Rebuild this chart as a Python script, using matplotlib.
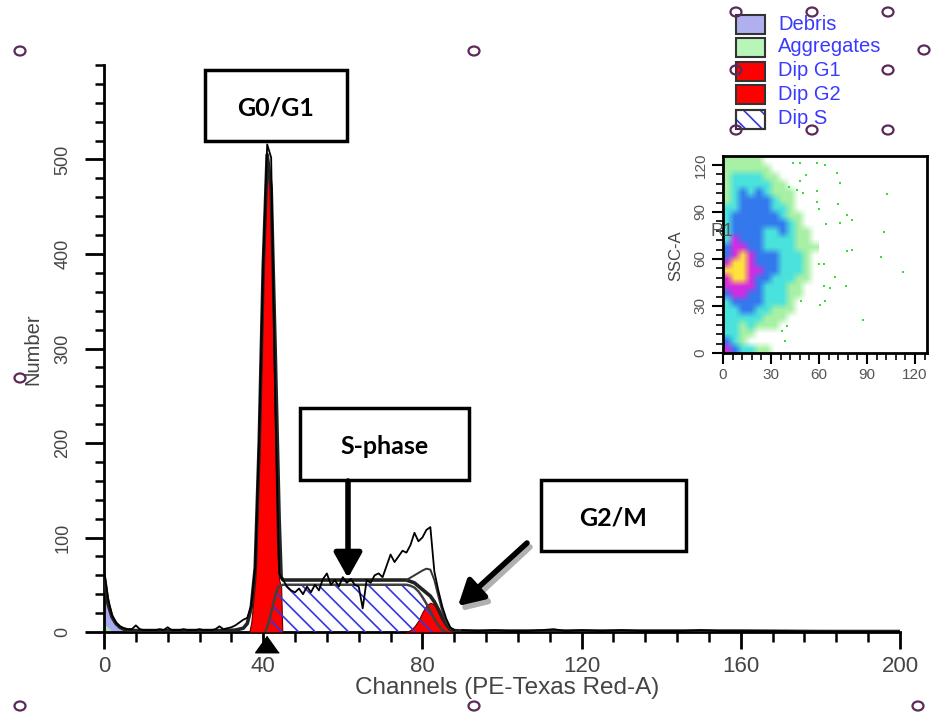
import numpy as np
import matplotlib.pyplot as plt
from matplotlib.patches import Rectangle, Ellipse, FancyArrowPatch
from matplotlib.colors import ListedColormap, BoundaryNorm
from matplotlib.ticker import MultipleLocator

plt.rcParams['font.family'] = ['Liberation Sans', 'DejaVu Sans']
plt.rcParams['hatch.linewidth'] = 1.2

# ---- DNA histogram, values ----
# raw counts for channels 0..88
raw_counts = [66, 36, 18, 10, 6, 4, 3, 3, 7, 3,
              2, 2, 2, 2, 3, 2, 5, 2, 2, 2,
              3, 2, 2, 2, 3, 2, 2, 2, 3, 6,
              3, 4, 5, 7, 10, 13, 15, 28, 70, 210,
              390, 516, 502, 250, 62, 55, 48, 44, 42, 46,
              40, 48, 42, 50, 44, 56, 62, 50, 55, 48,
              58, 52, 56, 50, 48, 25, 55, 52, 60, 62,
              58, 70, 82, 74, 80, 86, 84, 92, 105, 96,
              100, 108, 111, 64, 44, 27, 14, 5, 2]
tail_ch = [90, 94, 98, 102, 106, 110, 113, 116, 120, 125, 130, 135, 140,
           145, 150, 155, 160, 165, 170, 175, 180, 185, 190, 195, 200]
tail_counts = [2, 1, 2, 1, 1, 2, 3, 1, 2, 1, 2, 1, 1,
               1, 2, 1, 1, 1, 1, 0.5, 0.5, 0.3, 0.2, 0.2, 0.2]

# model fit outline
fit_ch = [0, 1, 2, 3, 4, 5, 6, 8, 10, 15, 20, 25, 30, 33, 35, 36, 37, 38, 39,
          40, 41, 42, 43, 44, 44.5, 45, 50, 55, 60, 65, 70, 76, 78, 80, 82,
          83, 84, 85, 86, 87, 88, 90, 100, 120, 140, 160, 180, 200]
fit_counts = [60, 30, 16, 9, 5, 3, 2, 1.5, 1.5, 1.5, 1.5, 1.5, 1.5, 2, 4, 9, 26, 68, 200,
              385, 505, 470, 300, 120, 58, 55, 55, 55, 55, 55, 55, 55, 52, 45, 38,
              32, 24, 15, 8, 3, 1.5, 1, 1, 1, 1, 1, 0.5, 0.5]
total_ch = [76, 78, 80, 81, 82, 83, 84, 85, 86, 87, 88]
total_counts = [55, 60, 65, 67, 66, 55, 38, 22, 10, 4, 1]

# model components
debris_ch = [0, 0.5, 1, 2, 3, 4, 5, 6, 7, 8]
debris_counts = [40, 33, 26, 17, 11, 7, 4, 2.5, 1.5, 0]
agg_ch = [0, 0.5, 1, 1.5, 2]
agg_counts = [6, 7, 5, 3, 0]
g1_ch = [36.5, 37, 38, 39, 40, 41, 42, 42.5, 43, 43.5, 44, 44.5, 44.8]
g1_counts = [0, 10, 55, 190, 380, 505, 470, 330, 200, 90, 55, 48, 0]
g2_ch = [76, 77, 78, 79, 80, 81, 82, 83, 84, 85, 86, 87, 87.5]
g2_counts = [0, 2, 6, 12, 21, 28, 31, 29, 22, 13, 6, 2, 0]
s_ch = [40.5, 41, 42, 43, 43.8, 45, 76, 77, 78, 79, 80, 81, 82, 83, 84, 85, 86]
s_counts = [0, 5, 20, 38, 48, 50, 50, 49, 47, 43, 37, 30, 22, 14, 7, 2, 0]
g1_marker = 41

legend_labels = ['Debris', 'Aggregates', 'Dip G1', 'Dip G2', 'Dip S']
legend_colors = ['#b0b0f0', '#b8f5b8', '#ff0000', '#ff0000', 'white']

# ---- FSC/SSC dot plot: density level per 5x5 cell (rows top -> bottom, x 0..60) ----
dens_rows = [
    "111110000000",
    "111111000000",
    "122221100000",
    "122222110000",
    "123232111000",
    "123333211000",
    "223333221000",
    "233333321100",
    "233333332100",
    "233332232110",
    "243332222110",
    "344332222111",
    "345433322210",
    "455433322210",
    "555443322210",
    "455433222110",
    "444432221100",
    "344332221100",
    "233332221000",
    "223322111000",
    "222221110000",
    "221211100000",
    "221100000000",
    "321000000000",
    "432211000000",
]
cell = 5
out_x = [44, 48, 58.7, 64, 71, 52, 48, 58.7, 102.7, 71.7, 60, 77.6, 80.7, 73, 64.6,
         100.6, 77.6, 80.7, 98.5, 60, 63, 112.6, 70, 77, 63, 67, 60.8, 64, 48.8,
         87.4, 39.8, 38.8, 37, 58.7, 41.3, 46, 50, 73]
out_y = [121, 121.5, 121.4, 120, 115, 113.6, 110, 103.6, 101.5, 95, 92, 88, 85, 83, 82,
         77, 64.8, 65.8, 61, 56.7, 56.7, 52, 48.8, 42.5, 42.5, 41.4, 30.8, 33, 33,
         21, 17.4, 7.4, 13.8, 96.6, 106, 104, 102, 108.7]

W, H = 933, 715
fig = plt.figure(figsize=(W / 100, H / 100), dpi=100)
fig.patch.set_facecolor('white')

# main histogram axes
ax = fig.add_axes([104 / W, 1 - 632 / H, 796 / W, 567 / H])
ax.set_xlim(0, 200)
ax.set_ylim(0, 600)

ax.fill_between(debris_ch, debris_counts, color='#aaaaee', lw=0, zorder=2)
ax.fill_between(agg_ch, agg_counts, color='#a8e8a8', lw=0, zorder=2)
ax.fill_between(g2_ch, g2_counts, color='#ff0000', edgecolor='#600000', lw=0.8, zorder=3)
ax.fill_between(g1_ch, g1_counts, color='#ff0000', edgecolor='#600000', lw=0.8, zorder=3)
ax.fill_between(s_ch, s_counts, facecolor='none', edgecolor='#3535e0', hatch='\\\\',
                lw=0, zorder=4)
ax.plot(s_ch, s_counts, color='#404040', lw=1.8, zorder=5)
ax.plot(fit_ch, fit_counts, color='#222222', lw=2.6, zorder=6)
ax.plot(total_ch, total_counts, color='#333333', lw=1.4, zorder=6)
ax.plot(np.arange(len(raw_counts)), raw_counts, color='black', lw=1.3, zorder=7)
ax.plot(tail_ch, tail_counts, color='black', lw=1.3, zorder=7)
ax.plot([g1_marker], [-13], marker=[(0, 0.7), (-1, -0.7), (1, -0.7)], ms=17,
        color='black', clip_on=False, zorder=8)

for side in ['top', 'right']:
    ax.spines[side].set_visible(False)
for side in ['left', 'bottom']:
    ax.spines[side].set_linewidth(2)
ax.set_xticks([0, 40, 80, 120, 160, 200])
ax.xaxis.set_minor_locator(MultipleLocator(8))
ax.set_yticks([0, 100, 200, 300, 400, 500])
ax.yaxis.set_minor_locator(MultipleLocator(20))
ax.tick_params(axis='x', which='major', length=12, width=2, pad=5,
               labelsize=16, labelcolor='#444444')
ax.tick_params(axis='x', which='minor', length=7, width=1.8)
ax.tick_params(axis='y', which='major', length=13.5, width=2, pad=10,
               labelsize=13, labelcolor='#444444', labelrotation=90)
ax.tick_params(axis='y', which='minor', length=6.5, width=1.8)
for lab in ax.get_yticklabels():
    lab.set_va('center')

# inset dot plot
ax_in = fig.add_axes([723 / W, 1 - 353 / H, 204 / W, 197 / H])
grid = np.array([[int(c) for c in row] for row in dens_rows])
cmap = ListedColormap(['white', '#a8f0a4', '#4ae2dc', '#3478ee', '#d42ce0', '#ffe23c'])
norm = BoundaryNorm(np.arange(-0.5, 6.5, 1), cmap.N)
rgb = cmap(norm(grid))
ax_in.imshow(rgb, extent=(0, grid.shape[1] * cell, 0, grid.shape[0] * cell),
             interpolation='bilinear', aspect='auto', zorder=1)
ax_in.scatter(out_x, out_y, s=3, marker='s', color='#33e033', lw=0, zorder=2)
ax_in.set_xlim(0, 127.5)
ax_in.set_ylim(0, 125.7)
ax_in.set_xticks([0, 30, 60, 90, 120])
ax_in.set_yticks([0, 30, 60, 90, 120])
ax_in.xaxis.set_minor_locator(MultipleLocator(6))
ax_in.yaxis.set_minor_locator(MultipleLocator(6))
for sp in ax_in.spines.values():
    sp.set_linewidth(2)
ax_in.tick_params(which='major', length=8, width=1.5, pad=3)
ax_in.tick_params(which='minor', length=5, width=1.2)
ax_in.tick_params(axis='y', labelrotation=90)
for lab in ax_in.get_xticklabels() + ax_in.get_yticklabels():
    lab.set_fontsize(11)
    lab.set_color('#555555')
for lab in ax_in.get_yticklabels():
    lab.set_va('center')

# overlay in pixel coordinates for labels, call-outs and handles
ov = fig.add_axes([0, 0, 1, 1], zorder=10)
ov.set_xlim(0, W)
ov.set_ylim(H, 0)
ov.axis('off')

ov.text(33, 349, 'Number', rotation=90, ha='center', va='center',
        fontsize=14.5, color='#444444')
ov.text(507, 688, 'Channels (PE-Texas Red-A)', ha='center', va='center',
        fontsize=17.5, color='#444444')
ov.text(676, 256, 'SSC-A', rotation=90, ha='center', va='center',
        fontsize=12, color='#444444')
ov.text(722, 232, 'R1', ha='center', va='center', fontsize=13, color='#555555')
# inset image is cropped at the bottom
ov.add_patch(Rectangle((700, 381), 233, 14, facecolor='white', edgecolor='none'))

# legend
row_y = [24, 47, 71, 94, 119]
for lab, col, yy in zip(legend_labels, legend_colors, row_y):
    ov.add_patch(Rectangle((736, yy - 9.5), 29, 19, facecolor=col,
                           edgecolor='#333333', lw=1.5))
    if lab == 'Dip S':
        ov.add_patch(Rectangle((736, yy - 9.5), 29, 19, facecolor='none',
                               edgecolor='#3535e0', hatch='\\\\', lw=0))
        ov.add_patch(Rectangle((736, yy - 9.5), 29, 19, facecolor='none',
                               edgecolor='#333333', lw=1.5))
    ov.text(778, yy, lab, ha='left', va='center', fontsize=14.5, color='#3a3aff')

# call-out boxes
boxes = [('G0/G1', 205, 70, 142, 71), ('S-phase', 300, 408, 169, 72),
         ('G2/M', 541, 480, 145, 71)]
for txt, bx, by, bw, bh in boxes:
    ov.add_patch(Rectangle((bx, by), bw, bh, facecolor='white', edgecolor='black', lw=2.5))
    ov.text(bx + bw / 2, by + bh / 2 + 3, txt, ha='center', va='center',
            fontsize=18, fontweight='bold', family=['Lato', 'DejaVu Sans'])

arrow_kw = dict(arrowstyle='-|>,head_length=0.75,head_width=0.42', mutation_scale=20,
                lw=4, shrinkA=0, shrinkB=0)
ov.add_patch(FancyArrowPatch((530, 547), (461, 611), color='#b0b0b0', **arrow_kw))
ov.add_patch(FancyArrowPatch((527, 543), (458, 606), color='black', **arrow_kw))
ov.add_patch(FancyArrowPatch((348, 481), (348, 578), color='black', **arrow_kw))

# selection handles
handles = [(20, 51), (474, 51), (924, 50), (20, 378), (20, 706), (474, 706), (918, 706),
           (736, 12), (812, 12), (888, 12), (736, 70), (888, 70),
           (736, 130), (812, 130), (888, 130)]
for hx, hy in handles:
    ov.add_patch(Ellipse((hx, hy), 11, 9, fill=False, edgecolor='#5b2a5b', lw=1.6))

fig.savefig('out.png', dpi=100)
